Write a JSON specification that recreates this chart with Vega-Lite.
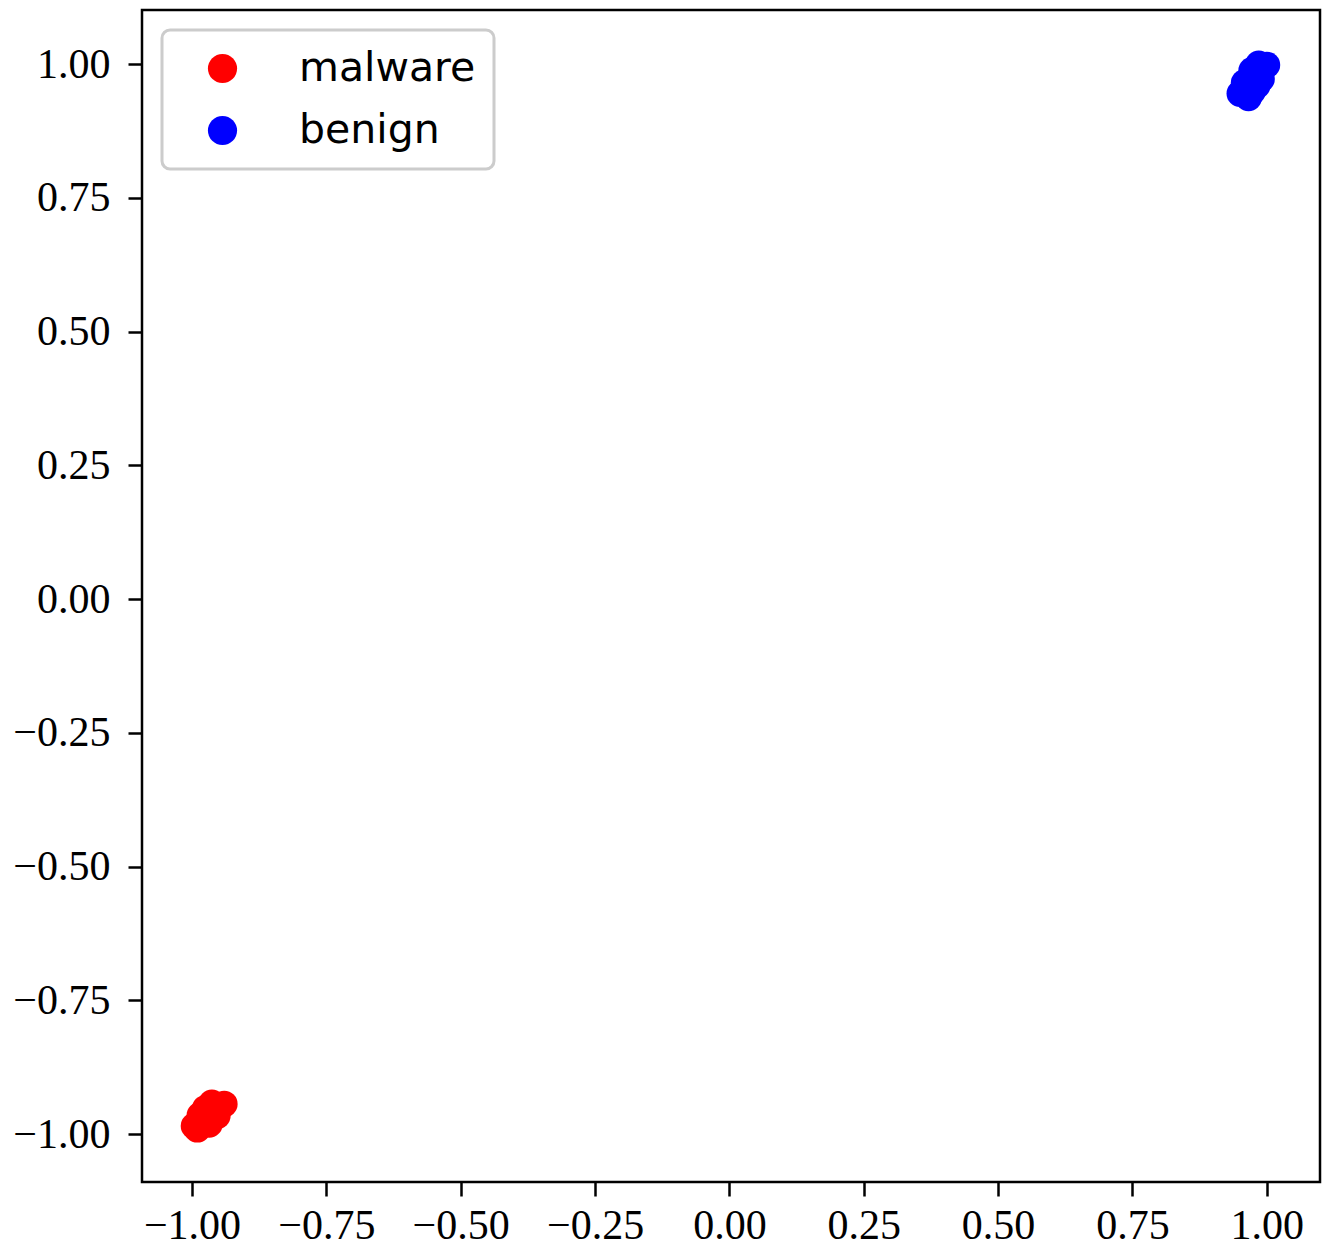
{
  "$schema": "https://vega.github.io/schema/vega-lite/v6.json",
  "width": 1178,
  "height": 1172,
  "autosize": "none",
  "padding": {"left": 142, "top": 10, "right": 5, "bottom": 65},
  "background": "white",
  "config": {
    "view": {"stroke": "black", "strokeWidth": 2.5},
    "axis": {
      "grid": false,
      "domain": false,
      "tickColor": "black",
      "tickWidth": 2.5,
      "tickSize": 14,
      "labelFont": "Liberation Serif",
      "labelFontSize": 42,
      "labelColor": "black",
      "title": null
    },
    "axisX": {"labelPadding": 9},
    "axisY": {"labelPadding": 18},
    "legend": {
      "strokeColor": "#cccccc",
      "strokeWidth": 3,
      "cornerRadius": 8,
      "fillColor": "white"
    }
  },
  "data": {
    "values": [
      {"x": 0.950, "y": 0.945, "label": "benign"},
      {"x": 0.955, "y": 0.950, "label": "benign"},
      {"x": 0.960, "y": 0.956, "label": "benign"},
      {"x": 0.965, "y": 0.963, "label": "benign"},
      {"x": 0.970, "y": 0.970, "label": "benign"},
      {"x": 0.975, "y": 0.975, "label": "benign"},
      {"x": 0.980, "y": 0.980, "label": "benign"},
      {"x": 0.985, "y": 0.986, "label": "benign"},
      {"x": 0.990, "y": 0.992, "label": "benign"},
      {"x": 0.995, "y": 0.997, "label": "benign"},
      {"x": 1.000, "y": 0.998, "label": "benign"},
      {"x": 0.966, "y": 0.937, "label": "benign"},
      {"x": 0.973, "y": 0.948, "label": "benign"},
      {"x": 0.982, "y": 0.960, "label": "benign"},
      {"x": 0.990, "y": 0.972, "label": "benign"},
      {"x": 0.958, "y": 0.965, "label": "benign"},
      {"x": 0.972, "y": 0.988, "label": "benign"},
      {"x": 0.985, "y": 1.000, "label": "benign"},
      {"x": -0.996, "y": -0.985, "label": "malware"},
      {"x": -0.990, "y": -0.991, "label": "malware"},
      {"x": -0.985, "y": -0.980, "label": "malware"},
      {"x": -0.980, "y": -0.975, "label": "malware"},
      {"x": -0.975, "y": -0.970, "label": "malware"},
      {"x": -0.970, "y": -0.965, "label": "malware"},
      {"x": -0.965, "y": -0.960, "label": "malware"},
      {"x": -0.960, "y": -0.955, "label": "malware"},
      {"x": -0.955, "y": -0.950, "label": "malware"},
      {"x": -0.950, "y": -0.947, "label": "malware"},
      {"x": -0.940, "y": -0.944, "label": "malware"},
      {"x": -0.963, "y": -0.942, "label": "malware"},
      {"x": -0.975, "y": -0.952, "label": "malware"},
      {"x": -0.985, "y": -0.965, "label": "malware"},
      {"x": -0.968, "y": -0.982, "label": "malware"},
      {"x": -0.953, "y": -0.966, "label": "malware"}
    ]
  },
  "mark": {"type": "circle", "size": 720, "opacity": 1},
  "encoding": {
    "x": {
      "field": "x", "type": "quantitative",
      "scale": {"domain": [-1.093, 1.099], "nice": false, "zero": false},
      "axis": {"values": [-1, -0.75, -0.5, -0.25, 0, 0.25, 0.5, 0.75, 1], "format": ".2f"}
    },
    "y": {
      "field": "y", "type": "quantitative",
      "scale": {"domain": [-1.0897, 1.101], "nice": false, "zero": false},
      "axis": {"values": [-1, -0.75, -0.5, -0.25, 0, 0.25, 0.5, 0.75, 1], "format": ".2f"}
    },
    "color": {
      "field": "label", "type": "nominal",
      "scale": {"domain": ["malware", "benign"], "range": ["#ff0000", "#0000ff"]},
      "legend": {
        "title": null,
        "orient": "none",
        "legendX": 20,
        "legendY": 20,
        "padding": 18,
        "symbolType": "circle",
        "symbolSize": 850,
        "symbolOffset": 22,
        "symbolOpacity": 1,
        "labelFont": "DejaVu Sans",
        "labelFontSize": 41,
        "labelColor": "black",
        "labelOffset": 56,
        "labelLimit": 0,
        "rowPadding": 20
      }
    }
  }
}
